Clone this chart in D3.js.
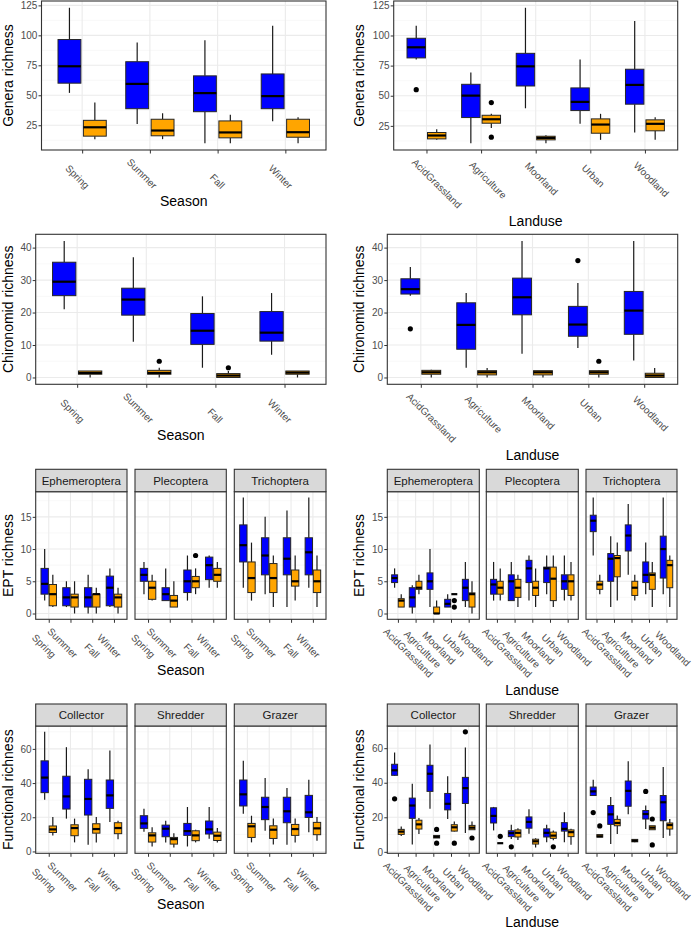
<!DOCTYPE html>
<html><head><meta charset="utf-8">
<script src="https://cdn.jsdelivr.net/npm/d3@7"></script>
<style>
body{margin:0;background:#fff;}
svg{display:block;font-family:"Liberation Sans",Arial,Helvetica,sans-serif;}
</style></head><body>
<svg id="chart" width="692" height="929"></svg>
<script>
// ---------------- DATA ----------------
const seasons = ["Spring","Summer","Fall","Winter"];
const landuses = ["AcidGrassland","Agriculture","Moorland","Urban","Woodland"];
const eptTaxa = ["Ephemeroptera","Plecoptera","Trichoptera"];
const feedingGroups = ["Collector","Shredder","Grazer"];
const groupColors = ["#0000FF","#FFA500"];

const generaTicks = [25,50,75,100,125], generaMinor = [12.5,37.5,62.5,87.5,112.5];
const chironTicks = [0,10,20,30,40], chironMinor = [5,15,25,35];
const eptTicks = [0,5,10,15], eptMinor = [2.5,7.5,12.5,17.5];
const funcTicks = [0,20,40,60], funcMinor = [10,30,50,70];

// box stats: [lower whisker, Q1, median, Q3, upper whisker]; A = blue group, B = orange group
const generaSeasonA = [[52,60.1,74.2,96.5,123],[26,38.8,59.5,78,94],[10,36.3,51.8,66.2,96],[28.3,38.8,49.3,67.8,108]];
const generaSeasonB = [[13.4,15.9,23.3,29.1,44],[13.4,16.2,20.6,30,35],[10,14.5,19,28.6,33.8],[10,15,19.2,30,31.6]];
const generaSeasonOut = [];

const generaLandA = [[80,81.4,90.2,97.7,108],[10.6,31.9,50.1,59.5,69.2],[39.6,58.1,74.4,85.2,123],[26.7,37.7,44.9,56.5,80],[19.5,43,59,72,112]];
const generaLandB = [[13.4,14.2,17,19.5,22.2],[23.3,27.2,30.5,33.8,35],[10.6,13.4,15,16.4,17.3],[13.4,18.9,26.1,30.8,35],[13.4,20.9,26.7,30,32.2]];
const generaLandOut = [[0,0,55],[1,1,44.3],[1,1,15.6]]; // [category, group, value]

const chironSeasonA = [[21,25.2,29.5,35.5,42],[11,19.2,24,27.5,37],[3,10.2,14.4,19.7,25],[7,11.2,13.8,20.3,26]];
const chironSeasonB = [[0,1,1.4,2,2],[0,1,1.4,2.2,3],[0,0,0.6,1.2,2],[0,1,1.5,2,2]];
const chironSeasonOut = [[1,1,5],[2,1,3]];

const chironLandA = [[25.2,25.7,27.2,30.4,34],[3,8.7,16.2,23,26],[7.3,19.3,24.7,30.6,42],[9.1,12.7,16.3,21.9,29.1],[5.2,13.3,20.6,26.5,42]];
const chironLandB = [[0,1,1.6,2.2,2.4],[0,0.8,1.6,2.1,2.9],[0,0.8,1.6,2.1,2.1],[0,1,1.6,2.1,2.2],[0,0,0.6,1.3,2.9]];
const chironLandOut = [[0,0,15],[3,0,36],[3,1,5]];

const eptSeasonEphA = [[2,3,4.6,7,10],[1,1.2,2.5,4,5],[0,1,2.5,4,6],[1,1.2,4,5.8,7]];
const eptSeasonEphB = [[1,1.2,3,4.5,6],[0,1,2.5,3,5],[0,1,3,3,4],[0,1,2.5,3,4]];
const eptSeasonPleA = [[3,5,6,7,8],[2,2,3,4,7],[2,3.25,5,6.75,9],[4,5.25,7.5,8.75,9]];
const eptSeasonPleB = [[2,2.2,4,5,6],[1,1,2,2.8,5],[3,4,5,5.75,7],[4,5,6,7,8]];
const eptSeasonTriA = [[4,8,10.6,13.75,18],[3,6,9,11.75,15],[1,6,8.5,11.75,16],[4,6,9.5,11.75,18]];
const eptSeasonTriB = [[2,3.25,5.5,8,11],[1,3.25,5.5,7.75,9],[2,4.25,5,6.75,9],[1,3.25,5,6.75,9]];
const eptSeasonOut = [[1,2,1,9]]; // [facet, category, group, value]

const eptLandEphA = [[4,4.8,5.5,6,7],[0,1,2.5,4,4.4],[1,3.75,5,6.3,10],[1,1,1.5,2.2,3],[1,2,4,5.3,8]];
const eptLandEphB = [[1,1,2,2.3,3],[3,3.75,4,5,6],[0,0,0,1,2],[3,3,3,3,3],[0,1,3,3.2,5]];
const eptLandPleA = [[2,3,4.5,5.3,8],[2,2,5,6,8],[2,4.8,7,8.25,9],[3,4.8,7,7.2,9],[2,3.75,5,6,9]];
const eptLandPleB = [[2,3,4,5,7],[1,2.5,4,5.3,6],[1,2.8,4,5,7],[1,2,5.4,7.2,9],[2,2.8,5,6,8]];
const eptLandTriA = [[9,12.7,14.4,15.25,18],[1,5,8.5,9.3,12],[6,9.7,12.1,13.75,17],[3,4.8,6,8,11],[3,5.5,10,12,18]];
const eptLandTriB = [[3,3.75,4.5,5,6],[2,5.7,8.6,9,11],[2,2.8,4,5,6],[1,3.75,6,6.3,8],[1,4,7.5,8.25,9]];
const eptLandOut = [[0,3,1,2],[0,3,1,1]];

const funcSeasonColA = [[30.3,34.4,43.2,53,70],[19.2,24.8,32.2,44,61],[3.9,21.3,30.7,42.2,48.1],[17.2,25.2,32.8,41.8,59]];
const funcSeasonColB = [[9.4,11.1,12.9,14.9,20.1],[5.3,9.2,13.7,15.6,19.2],[5.3,10.7,13.1,16.2,20.1],[7.2,10.4,13.7,16.8,18]];
const funcSeasonShrA = [[11.5,13.5,16.4,20.9,25],[5.3,8.6,13.3,15.4,18],[2.9,9.4,11.9,16.4,26],[7.4,10.2,12.9,17.8,26]];
const funcSeasonShrB = [[2.9,5.5,9.4,10.9,14.1],[2.3,4.3,7.2,8.2,10.7],[5.3,6.3,9.4,12.1,12.7],[5.3,6.4,9.2,11.3,13.7]];
const funcSeasonGraA = [[22.1,26.6,33.4,41.8,53],[12.1,18.6,26,31.7,43],[3.9,16.8,23.5,31.7,37.1],[11.3,19.9,22.9,32.8,42]];
const funcSeasonGraB = [[5.3,8.2,14.7,16.4,20.9],[4.1,7.6,12.7,15,19.2],[5.3,9.4,13.1,15.8,19.2],[6.3,9.8,13.5,17,20.1]];
const funcSeasonOut = [];

const funcLandColA = [[43.9,44.3,47.2,50.7,57.5],[4.3,19.4,26.8,31.1,39.4],[24.9,35,45.2,50.1,62.1],[19,24.3,27.8,33.8,43.7],[10.9,28,36.9,43.1,60.4]];
const funcLandColB = [[9.1,10.1,11.7,13,14.6],[10.3,13.2,15.9,18.3,19.6],[8,8,8.7,9.5,9.5],[11.7,12,14.2,15.7,17.5],[12.8,12.8,14,15.3,17.5]];
const funcLandShrA = [[12.4,16.7,20.8,25.5,26],[7.5,8.8,10.8,12.2,15.7],[10.4,13.7,17.3,20.2,24.7],[5.5,8.6,11,13.3,15.7],[5.5,12,13.3,16.9,22.9]];
const funcLandShrB = [[5,5,5,5,5],[6.9,8.6,11,12.7,13.7],[2.5,4.5,6.1,7.3,7.8],[6.7,7.8,9.4,11.4,12.4],[4.1,8.8,11.4,12.7,13.3]];
const funcLandGraA = [[32.6,32.6,35,37.5,41.7],[4.5,15.9,21.7,26.8,31.7],[21.7,26.4,35.3,41,52.4],[13.2,19,21.9,23.9,26.8],[8,18,28.7,32.6,49.1]];
const funcLandGraB = [[8.5,8.5,9,10,10],[10.3,15.1,16.7,18.8,21],[5.5,5.8,6.4,7.2,7.5],[12.8,12.8,14,15.1,15.1],[9.3,13.2,15.5,16.7,19]];
const funcLandOut = [[0,0,0,30.7],[0,4,0,69.5],[0,2,1,13],[0,2,1,5],[0,3,1,5],[0,4,1,8],
  [1,1,0,2.9],[1,0,1,9],[1,3,1,2.9],[2,0,0,22.7],[2,3,0,35],[2,0,1,15],[2,3,1,19],[2,3,1,4]];

// ---------------- DRAWING ----------------
const svg = d3.select("#chart");
const FONT = '"Liberation Sans", Arial, Helvetica, sans-serif';
const DARK = "#333333";

function yDomain(statLists, outVals){
  let lo = Infinity, hi = -Infinity;
  statLists.forEach(list => list.forEach(s => { lo = Math.min(lo, s[0]); hi = Math.max(hi, s[4]); }));
  outVals.forEach(v => { lo = Math.min(lo, v); hi = Math.max(hi, v); });
  const pad = (hi - lo) * 0.05;
  return [lo - pad, hi + pad];
}

function boxPanel(o){
  const g = svg.append("g");
  const x = d3.scalePoint().domain(o.cats).range([o.x0, o.x1]).padding(0.6);
  const y = o.y, step = x.step();
  g.append("rect").attr("x", o.x0).attr("y", o.y0).attr("width", o.x1 - o.x0).attr("height", o.y1 - o.y0).attr("fill", "#fff");
  g.append("g").selectAll("line").data(o.minor.filter(v => y(v) > o.y0 && y(v) < o.y1)).join("line")
    .attr("x1", o.x0).attr("x2", o.x1).attr("y1", d => y(d)).attr("y2", d => y(d))
    .attr("stroke", "#F3F3F3").attr("stroke-width", 0.6);
  g.append("g").selectAll("line").data(o.ticks).join("line")
    .attr("x1", o.x0).attr("x2", o.x1).attr("y1", d => y(d)).attr("y2", d => y(d))
    .attr("stroke", "#EBEBEB").attr("stroke-width", 1.1);
  g.append("g").selectAll("line").data(o.cats).join("line")
    .attr("x1", d => x(d)).attr("x2", d => x(d)).attr("y1", o.y0).attr("y2", o.y1)
    .attr("stroke", "#EBEBEB").attr("stroke-width", 1.1);

  const bw = 0.3375 * step;
  [o.statsA, o.statsB].forEach((stats, gi) => {
    const off = (gi ? 1 : -1) * 0.1875 * step;
    const items = stats.map((s, i) => ({ s, cx: x(o.cats[i]) + off }));
    const bg = g.append("g");
    bg.selectAll(".wlo").data(items).join("line")
      .attr("x1", d => d.cx).attr("x2", d => d.cx).attr("y1", d => y(d.s[0])).attr("y2", d => y(d.s[1]))
      .attr("stroke", "#1a1a1a").attr("stroke-width", 1.2);
    bg.selectAll(".whi").data(items).join("line")
      .attr("x1", d => d.cx).attr("x2", d => d.cx).attr("y1", d => y(d.s[3])).attr("y2", d => y(d.s[4]))
      .attr("stroke", "#1a1a1a").attr("stroke-width", 1.2);
    bg.selectAll("rect").data(items).join("rect")
      .attr("x", d => d.cx - bw / 2).attr("width", bw)
      .attr("y", d => y(d.s[3])).attr("height", d => Math.max(0, y(d.s[1]) - y(d.s[3])))
      .attr("fill", groupColors[gi]).attr("stroke", "#262626").attr("stroke-width", 1);
    bg.selectAll(".med").data(items).join("line")
      .attr("x1", d => d.cx - bw / 2).attr("x2", d => d.cx + bw / 2)
      .attr("y1", d => y(d.s[2])).attr("y2", d => y(d.s[2]))
      .attr("stroke", "#000").attr("stroke-width", 2.2);
  });
  g.append("g").selectAll("circle").data(o.outs).join("circle")
    .attr("cx", d => x(o.cats[d[0]]) + (d[1] ? 1 : -1) * 0.1875 * step)
    .attr("cy", d => y(d[2])).attr("r", 2.6).attr("fill", "#000");

  g.append("rect").attr("x", o.x0).attr("y", o.y0).attr("width", o.x1 - o.x0).attr("height", o.y1 - o.y0)
    .attr("fill", "none").attr("stroke", DARK).attr("stroke-width", 1.1);

  // x axis
  const axg = g.append("g").attr("transform", `translate(0,${o.y1})`)
    .attr("font-family", FONT).attr("font-size", 11)
    .call(d3.axisBottom(x).tickSize(3.5).tickPadding(0));
  axg.select(".domain").remove();
  axg.selectAll(".tick line").attr("stroke", DARK).attr("stroke-width", 1);
  axg.selectAll(".tick text").attr("fill", "#4D4D4D").attr("x", 0).attr("y", 0).attr("dy", null);
  if (o.mode === "season") {
    axg.selectAll(".tick text").attr("text-anchor", "end")
      .attr("transform", "translate(2.5,39.5) rotate(45)");
  } else {
    axg.selectAll(".tick text").attr("text-anchor", "start").each(function(){
      const L = this.getComputedTextLength();
      const s = 0.22 * L * Math.SQRT1_2;
      d3.select(this).attr("transform", `translate(${-5.5 - s},${23 - s}) rotate(45)`);
    });
  }
  // y axis
  if (o.showY) {
    const ayg = g.append("g").attr("transform", `translate(${o.x0},0)`)
      .attr("font-family", FONT).attr("font-size", 11)
      .call(d3.axisLeft(y).tickValues(o.ticks).tickSize(3).tickPadding(1.2));
    ayg.select(".domain").remove();
    ayg.selectAll(".tick line").attr("stroke", DARK).attr("stroke-width", 1);
    ayg.selectAll(".tick text").attr("fill", "#4D4D4D");
  }
  return x;
}

function yTitle(tx, cy, label){
  svg.append("text").attr("transform", `translate(${tx},${cy}) rotate(-90)`)
    .attr("text-anchor", "middle").attr("font-size", 14).attr("fill", "#000").text(label);
}
function xTitle(cx, panelBottom, mode, label){
  const by = Math.min(panelBottom + (mode === "landuse" ? 75.5 : 56), 927);
  svg.append("text").attr("x", cx).attr("y", by).attr("text-anchor", "middle")
    .attr("font-size", 14).attr("fill", "#000").text(label);
}

function singlePanel(p){
  const y = d3.scaleLinear().domain(yDomain([p.statsA, p.statsB], p.outs.map(d => d[2]))).range([p.y1, p.y0]);
  boxPanel({...p, y, showY: true});
  yTitle(p.titleX, (p.y0 + p.y1) / 2, p.yLabel);
  xTitle((p.x0 + p.x1) / 2, p.y1, p.mode, p.xLabel);
}

function facetRow(p){
  const allStats = p.statsA.concat(p.statsB);
  const y = d3.scaleLinear().domain(yDomain(allStats, p.outs.map(d => d[3]))).range([p.y1, p.y0]);
  p.facets.forEach((name, fi) => {
    const [x0, x1] = p.xs[fi];
    boxPanel({x0, x1, y0: p.y0, y1: p.y1, cats: p.cats, y, ticks: p.ticks, minor: p.minor,
      statsA: p.statsA[fi], statsB: p.statsB[fi],
      outs: p.outs.filter(d => d[0] === fi).map(d => [d[1], d[2], d[3]]),
      showY: fi === 0, mode: p.mode});
    svg.append("rect").attr("x", x0).attr("y", p.s0).attr("width", x1 - x0).attr("height", p.y0 - p.s0)
      .attr("fill", "#D9D9D9").attr("stroke", DARK).attr("stroke-width", 1.1);
    svg.append("text").attr("x", (x0 + x1) / 2).attr("y", (p.s0 + p.y0) / 2 + 4.2)
      .attr("text-anchor", "middle").attr("font-size", 11.5).attr("fill", "#1A1A1A").text(name);
  });
  yTitle(p.titleX, (p.y0 + p.y1) / 2, p.yLabel);
  xTitle((p.xs[0][0] + p.xs[p.xs.length - 1][1]) / 2, p.y1, p.mode, p.xLabel);
}

// Draw bottom rows first so that upper rows' labels and titles stay on top
// Row 4
facetRow({xs: [[35.7,127],[135,226.3],[234.3,326]], s0: 704, y0: 726, y1: 853.3,
  facets: feedingGroups, cats: seasons, ticks: funcTicks, minor: funcMinor,
  statsA: [funcSeasonColA, funcSeasonShrA, funcSeasonGraA], statsB: [funcSeasonColB, funcSeasonShrB, funcSeasonGraB],
  outs: funcSeasonOut, mode: "season", titleX: 12.5, yLabel: "Functional richness", xLabel: "Season"});
facetRow({xs: [[387.3,479.3],[486.3,578.3],[586,677]], s0: 704, y0: 726, y1: 853.3,
  facets: feedingGroups, cats: landuses, ticks: funcTicks, minor: funcMinor,
  statsA: [funcLandColA, funcLandShrA, funcLandGraA], statsB: [funcLandColB, funcLandShrB, funcLandGraB],
  outs: funcLandOut, mode: "landuse", titleX: 364, yLabel: "Functional richness", xLabel: "Landuse"});

// Row 3
facetRow({xs: [[35.7,127],[135,226.3],[234.3,326]], s0: 469.3, y0: 491.7, y1: 619.3,
  facets: eptTaxa, cats: seasons, ticks: eptTicks, minor: eptMinor,
  statsA: [eptSeasonEphA, eptSeasonPleA, eptSeasonTriA], statsB: [eptSeasonEphB, eptSeasonPleB, eptSeasonTriB],
  outs: eptSeasonOut, mode: "season", titleX: 12.5, yLabel: "EPT richness", xLabel: "Season"});
facetRow({xs: [[387.3,479.3],[486.3,578.3],[586,677]], s0: 469.3, y0: 491.7, y1: 619.3,
  facets: eptTaxa, cats: landuses, ticks: eptTicks, minor: eptMinor,
  statsA: [eptLandEphA, eptLandPleA, eptLandTriA], statsB: [eptLandEphB, eptLandPleB, eptLandTriB],
  outs: eptLandOut, mode: "landuse", titleX: 364, yLabel: "EPT richness", xLabel: "Landuse"});

// Row 2
singlePanel({x0: 35.7, x1: 326, y0: 234.3, y1: 384.3, cats: seasons, ticks: chironTicks, minor: chironMinor,
  statsA: chironSeasonA, statsB: chironSeasonB, outs: chironSeasonOut, mode: "season",
  titleX: 12.5, yLabel: "Chironomid richness", xLabel: "Season"});
singlePanel({x0: 387.3, x1: 677.7, y0: 234.3, y1: 384.3, cats: landuses, ticks: chironTicks, minor: chironMinor,
  statsA: chironLandA, statsB: chironLandB, outs: chironLandOut, mode: "landuse",
  titleX: 364, yLabel: "Chironomid richness", xLabel: "Landuse"});

// Row 1
singlePanel({x0: 41.5, x1: 326, y0: 1, y1: 150, cats: seasons, ticks: generaTicks, minor: generaMinor,
  statsA: generaSeasonA, statsB: generaSeasonB, outs: generaSeasonOut, mode: "season",
  titleX: 12.5, yLabel: "Genera richness", xLabel: "Season"});
singlePanel({x0: 393.7, x1: 677.7, y0: 1, y1: 150, cats: landuses, ticks: generaTicks, minor: generaMinor,
  statsA: generaLandA, statsB: generaLandB, outs: generaLandOut, mode: "landuse",
  titleX: 364, yLabel: "Genera richness", xLabel: "Landuse"});
</script></body></html>
